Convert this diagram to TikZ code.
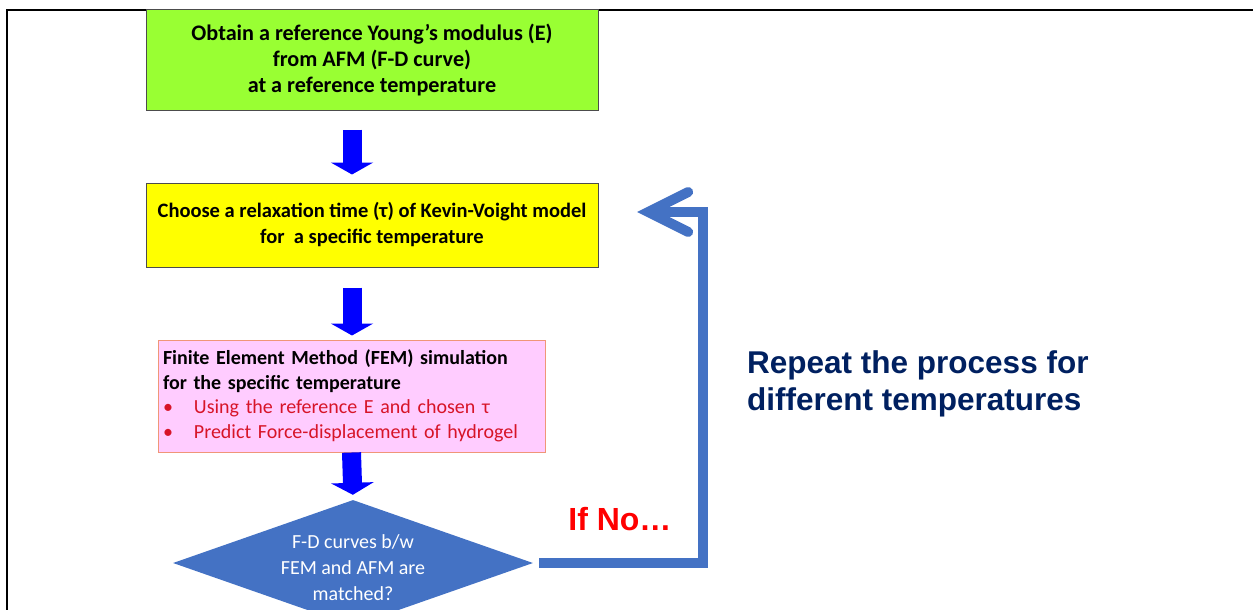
\documentclass[tikz,border=0pt]{standalone}
\usepackage{fontspec}
\setmainfont{Carlito}
\newfontfamily\arialfont{Liberation Sans}
\usetikzlibrary{shapes.geometric,arrows.meta}

\definecolor{limegreen}{RGB}{153,255,51}
\definecolor{boxyellow}{RGB}{255,255,0}
\definecolor{boxpink}{RGB}{255,204,255}
\definecolor{pinkedge}{RGB}{240,150,120}
\definecolor{arrowblue}{RGB}{0,0,255}
\definecolor{loopblue}{RGB}{68,114,196}
\definecolor{bulletred}{RGB}{215,20,40}
\definecolor{navy}{RGB}{0,32,96}

\tikzset{
  stepbox/.style={draw=black!70, line width=1pt, inner sep=0pt, align=center, minimum width=452pt},
  downarrow/.style={line width=19pt, arrowblue, -{Triangle[width=42pt,length=12pt]}},
  loopline/.style={line width=10pt, loopblue},
}

\begin{document}
\begin{tikzpicture}[x=1pt,y=-1pt]
    \clip (0,0) rectangle (1253,610);

    % frame
    \draw[line width=1.8pt] (7,610) -- (7,10) -- (1253,10);
    \draw[line width=2.6pt] (1120,10) -- (1253,10);

    \node[stepbox, fill=limegreen, minimum height=100pt, font=\bfseries\fontsize{22.2}{26}\selectfont] (obtain) at (372,60)
        {Obtain a reference Young’s modulus (E)\\from AFM (F-D curve)\\at a reference temperature};

    \node[stepbox, fill=boxyellow, minimum height=84pt, font=\bfseries\fontsize{20.5}{26}\selectfont] (choose) at (372,225)
        {Choose a relaxation time (τ) of Kevin-Voight model\\for\ \ a specific temperature};

    \node[draw=pinkedge, fill=boxpink, line width=1pt, minimum width=387pt, minimum height=112pt,
          text width=377pt, inner sep=5pt, align=left, font=\fontsize{20}{24.5}\selectfont] (fem) at (351.5,396)
        {\textbf{Finite Element Method (FEM) simulation}\\
         \textbf{for the specific temperature}\\
         \textcolor{bulletred}{\textbullet\hspace{1.05em}Using the reference E and chosen τ}\\
         \textcolor{bulletred}{\textbullet\hspace{1.05em}Predict Force-displacement of hydrogel}};

    \node[diamond, fill=loopblue, aspect=2.86, minimum width=360pt, minimum height=126pt, inner sep=0pt] (match) at (353,563) {};
    \node[text=white, align=center, font=\fontsize{20}{26}\selectfont] (matchtext) at ([yshift=-5pt]match.center)
        {F-D curves b/w\\FEM and AFM are\\matched?};

    \node[text=red, anchor=base east, font=\arialfont\bfseries\fontsize{32}{36}\selectfont] (ifno) at (675,530) {If No…};

    \node[text=navy, anchor=north west, inner sep=0pt, align=left, font=\arialfont\bfseries\fontsize{31.5}{37}\selectfont] (repeat) at (747,350)
        {Repeat the process for\\different temperatures};

    % block arrows
    \draw[downarrow, shorten <=19pt, shorten >=8pt] ([xshift=-20pt]obtain.south) -- ([xshift=-20pt]choose.north);
    \draw[downarrow, shorten <=20pt, shorten >=4pt] ([xshift=-20pt]choose.south) -- ([xshift=-20pt]choose.south |- fem.north);
    \draw[downarrow, shorten >=5pt] (fem.south) -- (match.north);

    % loop back
    \coordinate (bend) at (703,212);
    \coordinate (back) at (637,212);
    \draw[loopline, -{Straight Barb[length=40pt,width=40pt,line cap=round]}]
        ([xshift=6pt]match.east) -| (bend) -- (back);
\end{tikzpicture}
\end{document}
